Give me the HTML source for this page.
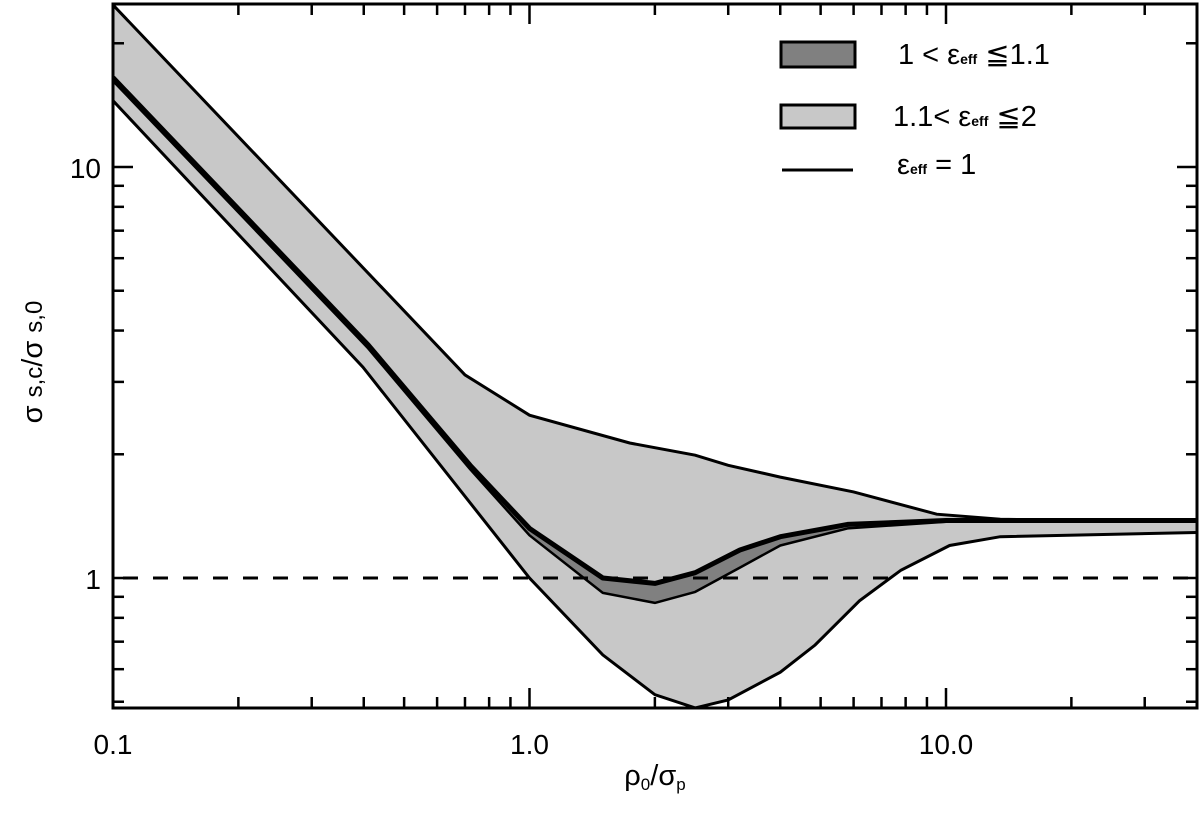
<!DOCTYPE html>
<html><head><meta charset="utf-8"><style>
body{margin:0;background:#fff;}
svg{display:block;font-family:"Liberation Sans",sans-serif;}
</style></head><body>
<svg id="chart" width="1200" height="814">
<defs><clipPath id="clip"><rect x="113" y="4" width="1084" height="704"/></clipPath></defs>
<g id="plot" clip-path="url(#clip)"></g>
<g id="axes"></g>
<g font-size="29" fill="#000">
  <rect x="781" y="42" width="74" height="25" fill="#808080" stroke="#000" stroke-width="3"/>
  <text x="898" y="64">1 &lt; ε<tspan font-size="14" font-weight="bold">eff</tspan> ≦1.1</text>
  <rect x="781" y="105" width="74" height="23" fill="#c8c8c8" stroke="#000" stroke-width="3"/>
  <text x="893" y="126">1.1&lt; ε<tspan font-size="14" font-weight="bold">eff</tspan> ≦2</text>
  <line x1="782" y1="170" x2="853" y2="170" stroke="#000" stroke-width="3"/>
  <text x="897" y="174">ε<tspan font-size="14" font-weight="bold">eff</tspan> = 1</text>
</g>
<text x="655" y="785" font-size="29" text-anchor="middle">ρ<tspan font-size="17" dy="5">0</tspan><tspan dy="-5">/σ</tspan><tspan font-size="17" dy="5">p</tspan></text>
<text transform="translate(42,362) rotate(-90)" font-size="29" text-anchor="middle">σ <tspan font-size="24">s,c</tspan>/σ <tspan font-size="24">s,0</tspan></text>
</svg>
<script>
const upperX=[0.1,0.7,1.0,1.74,2.5,3.0,4.0,6.0,9.5,13.5,20,40];
const upperY=[24.8,3.12,2.49,2.13,1.99,1.88,1.76,1.62,1.43,1.39,1.38,1.38];
const lowerX=[0.1,0.398,1.0,1.5,2.0,2.5,3.0,4.0,4.85,6.2,7.8,10.2,13.5,40];
const lowerY=[14.5,3.26,1.0,0.65,0.52,0.483,0.505,0.59,0.687,0.88,1.045,1.2,1.26,1.29];
const lineX=[0.1,0.41,0.72,1.0,1.5,2.0,2.5,3.2,4.0,5.8,10,40];
const lineY=[16.5,3.69,1.88,1.32,1.0,0.97,1.03,1.17,1.26,1.35,1.38,1.38];
const darkLoX=[0.1,0.41,0.72,1.0,1.5,2.0,2.5,3.2,4.0,5.8,10,40];
const darkLoY=[16.2,3.62,1.84,1.27,0.92,0.87,0.925,1.06,1.2,1.32,1.37,1.38];
const xTickLabels=["0.1","1.0","10.0"];
const xTickVals=[0.1,1,10];
const yTickLabels=["1","10"];
const yTickVals=[1,10];
const refY=1;

const L=113,R=1197,T=4,B=708;
const X=v=>L+(Math.log10(v)+1)*416.5;
const Y=v=>578-Math.log10(v)*411;
const NS='http://www.w3.org/2000/svg';
const plot=document.getElementById('plot'),axes=document.getElementById('axes');
function mk(tag,attrs,parent){const e=document.createElementNS(NS,tag);for(const k in attrs)e.setAttribute(k,attrs[k]);parent.appendChild(e);return e;}
const pts=(xs,ys)=>xs.map((x,i)=>X(x).toFixed(1)+','+Y(ys[i]).toFixed(1));

let e=mk('polygon',{points:pts(upperX,upperY).concat(pts(lowerX,lowerY).reverse()).join(' '),fill:'#c8c8c8',stroke:'none'},plot);


e=mk('polygon',{points:pts(lineX,lineY).concat(pts(darkLoX,darkLoY).reverse()).join(' '),fill:'#808080',stroke:'#000','stroke-width':2.5,'stroke-linejoin':'round'},plot);


e=mk('polyline',{points:pts(upperX,upperY).join(' '),fill:'none',stroke:'#000','stroke-width':3},plot);


e=mk('polyline',{points:pts(lowerX,lowerY).join(' '),fill:'none',stroke:'#000','stroke-width':3},plot);


e=mk('polyline',{points:pts(lineX,lineY).join(' '),fill:'none',stroke:'#000','stroke-width':5,'stroke-linejoin':'round'},plot);


e=mk('line',{x1:L,x2:R,y1:Y(refY),y2:Y(refY),stroke:'#000','stroke-width':3,'stroke-dasharray':'15,15','stroke-dashoffset':'-10'},plot);



e=mk('rect',{x:L,y:T,width:R-L,height:B-T,fill:'none',stroke:'#000','stroke-width':3},axes);


for(let d=-1;d<=1;d++)for(let m=1;m<=9;m++){const v=m*Math.pow(10,d);const px=X(v);if(px>R)continue;const len=m===1?20:11;
  e=mk('line',{x1:px,x2:px,y1:B,y2:B-len,stroke:'#000','stroke-width':2.5},axes);
  
  
  e=mk('line',{x1:px,x2:px,y1:T,y2:T+len,stroke:'#000','stroke-width':2.5},axes);
  
  }
xTickVals.forEach((v,i)=>{e=mk('text',{x:X(v),y:754,'font-size':28,'text-anchor':'middle'},axes);e.textContent=xTickLabels[i];
  
  });
for(let d=-1;d<=1;d++)for(let m=1;m<=9;m++){const v=m*Math.pow(10,d);const py=Y(v);if(py<T||py>B)continue;const len=m===1?20:11;
  e=mk('line',{x1:L,x2:L+len,y1:py,y2:py,stroke:'#000','stroke-width':2.5},axes);
  
  
  e=mk('line',{x1:R,x2:R-len,y1:py,y2:py,stroke:'#000','stroke-width':2.5},axes);
  
  }
yTickVals.forEach((v,i)=>{e=mk('text',{x:101,y:Y(v)+11,'font-size':28,'text-anchor':'end'},axes);e.textContent=yTickLabels[i];
  
  });
</script>
</body></html>
